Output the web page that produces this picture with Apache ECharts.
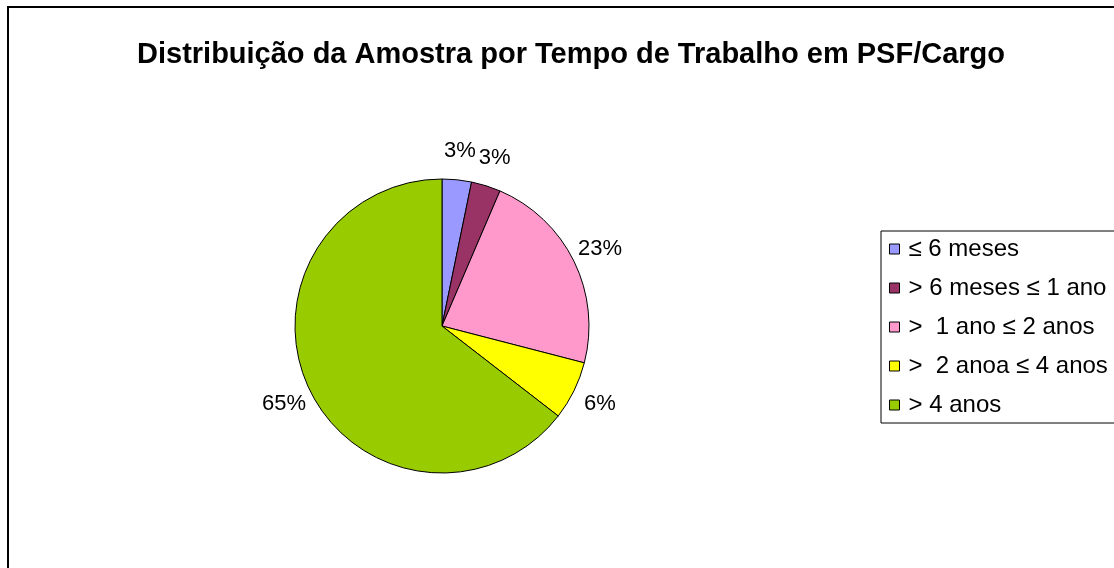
<!DOCTYPE html>
<html>
<head>
<meta charset="utf-8">
<title>Distribuição da Amostra</title>
<script src="https://cdn.jsdelivr.net/npm/echarts@6/dist/echarts.min.js"></script>
<style>
    html, body { margin: 0; padding: 0; background: #fff; }
    #container { width: 1114px; height: 568px; }
</style>
</head>
<body>
<div id="container"></div>
<script>
// categorias (tempo de trabalho)
var categories = ['≤ 6 meses', '> 6 meses ≤ 1 ano', '>  1 ano ≤ 2 anos', '>  2 anoa ≤ 4 anos', '> 4 anos'];
// numero de pessoas da amostra (31 no total)
var counts = [1, 1, 7, 2, 20];
var sliceColors = ['#9999ff', '#993366', '#ff99cc', '#ffff00', '#99cc00'];
var chartTitle = 'Distribuição da Amostra por Tempo de Trabalho em PSF/Cargo';

var pieData = [];
for (var i = 0; i < categories.length; i++) {
    pieData.push({ name: categories[i], value: counts[i] });
}

var dom = document.getElementById("container");
var myChart = echarts.init(dom);
var font = '"Liberation Sans", Arial, sans-serif';

// rotulo centrado na direcao do meio da fatia, um pouco fora do raio
function labelOnRadius(params) {
    var data = myChart.getModel().getSeriesByIndex(0).getData();
    var lay = data.getItemLayout(params.dataIndex);
    if (!lay) return {};
    var mid = (lay.startAngle + lay.endAngle) / 2;
    var dist = lay.r + 29;
    return {
        x: lay.cx + dist * Math.cos(mid),
        y: lay.cy + dist * Math.sin(mid),
        align: 'center',
        verticalAlign: 'middle',
        hideOverlap: false
    };
}

option = {
    animation: false,
    color: sliceColors,
    title: {
        text: chartTitle,
        left: 566,
        textAlign: 'center',
        top: 35,
        textStyle: {
            fontFamily: font,
            fontSize: 29,
            fontWeight: 'bold',
            color: '#000'
        }
    },
    // moldura do grafico
    graphic: [{
        type: 'rect',
        shape: { x: 8, y: 7, width: 1200, height: 700 },
        style: { fill: null, stroke: '#000', lineWidth: 2 },
        silent: true
    }],
    legend: {
        orient: 'vertical',
        left: 881,
        top: 231,
        padding: [5, 12, 5, 8],
        borderColor: '#000',
        borderWidth: 1,
        itemWidth: 10,
        itemHeight: 10,
        itemGap: 13,
        icon: 'rect',
        itemStyle: { borderColor: '#000', borderWidth: 1 },
        textStyle: {
            fontFamily: font,
            fontSize: 24,
            color: '#000',
            lineHeight: 26,
            padding: [0, 0, 0, 4]
        },
        data: categories
    },
    series: [{
        type: 'pie',
        center: [442, 326],
        radius: 147,
        startAngle: 90,
        clockwise: true,
        percentPrecision: 0,
        avoidLabelOverlap: false,
        itemStyle: { borderColor: '#000', borderWidth: 1 },
        label: {
            show: true,
            position: 'outside',
            formatter: '{d}%',
            fontFamily: font,
            fontSize: 22,
            color: '#000'
        },
        labelLine: { show: false, length: 8, length2: 0 },
        labelLayout: labelOnRadius,
        emphasis: { disabled: true },
        data: pieData
    }]
};

if (option && typeof option === "object") {
    myChart.setOption(option, true);
}
</script>
</body>
</html>
